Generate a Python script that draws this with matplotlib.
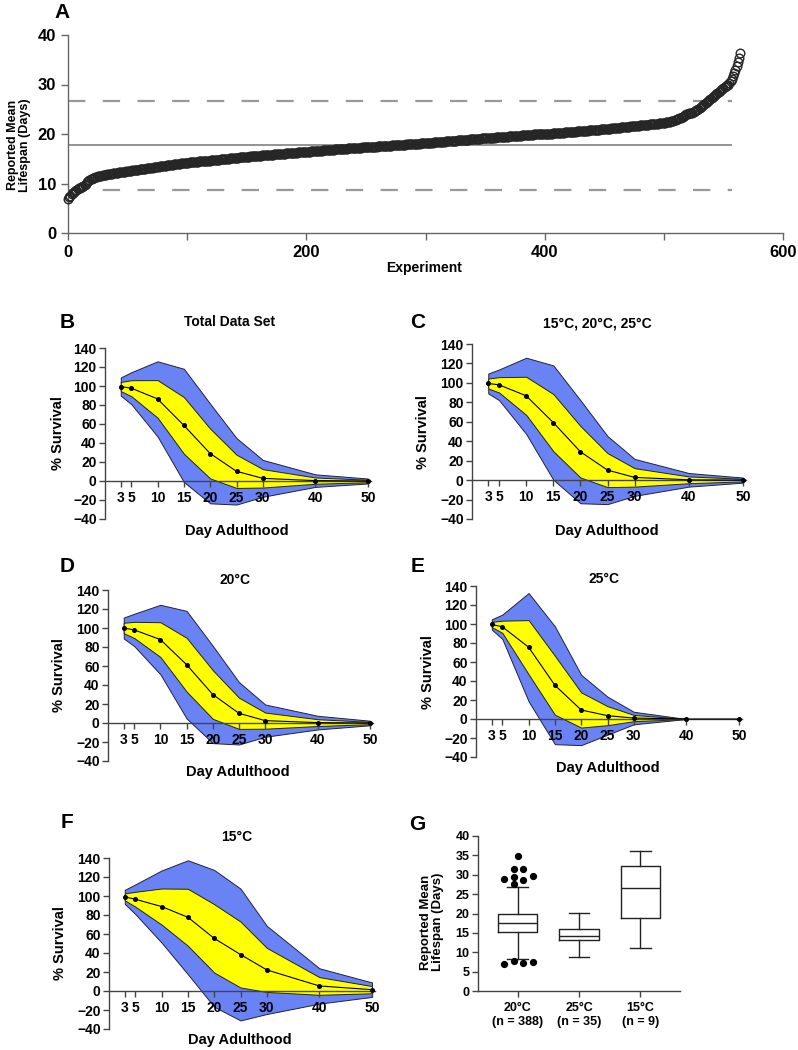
import matplotlib
matplotlib.use('Agg')
import matplotlib.pyplot as plt
import numpy as np

# ---------------- data ----------------
# Panel A: sorted reported mean lifespans (days), one value per experiment
lifespans = [
    6.9, 7.2, 7.5, 7.8, 8.0, 8.2, 8.4, 8.6, 8.8, 9.0, 9.1, 9.2, 9.3, 9.4, 9.6, 9.9, 10.3, 10.6, 10.8, 10.9, 11.0, 11.1, 11.2, 11.3, 11.4,
    11.5, 11.5, 11.6, 11.6, 11.7, 11.7, 11.8, 11.8, 11.9, 11.9, 12.0, 12.0, 12.0, 12.1, 12.1, 12.2, 12.2, 12.2, 12.3, 12.3, 12.3, 12.4, 12.4, 12.4, 12.5,
    12.5, 12.6, 12.6, 12.6, 12.7, 12.7, 12.7, 12.8, 12.8, 12.8, 12.9, 12.9, 12.9, 13.0, 13.0, 13.0, 13.1, 13.1, 13.1, 13.2, 13.2, 13.2, 13.3, 13.3, 13.3,
    13.4, 13.4, 13.5, 13.5, 13.5, 13.6, 13.6, 13.6, 13.7, 13.7, 13.7, 13.8, 13.8, 13.8, 13.9, 13.9, 13.9, 14.0, 14.0, 14.0, 14.1, 14.1, 14.1, 14.2, 14.2,
    14.2, 14.2, 14.3, 14.3, 14.3, 14.3, 14.4, 14.4, 14.4, 14.4, 14.5, 14.5, 14.5, 14.5, 14.5, 14.6, 14.6, 14.6, 14.6, 14.6, 14.7, 14.7, 14.7, 14.7, 14.7,
    14.8, 14.8, 14.8, 14.9, 14.9, 14.9, 14.9, 15.0, 15.0, 15.0, 15.0, 15.1, 15.1, 15.1, 15.1, 15.2, 15.2, 15.2, 15.2, 15.3, 15.3, 15.3, 15.3, 15.4, 15.4,
    15.4, 15.4, 15.4, 15.5, 15.5, 15.5, 15.5, 15.5, 15.6, 15.6, 15.6, 15.6, 15.6, 15.7, 15.7, 15.7, 15.7, 15.7, 15.8, 15.8, 15.8, 15.8, 15.8, 15.9, 15.9,
    15.9, 15.9, 15.9, 16.0, 16.0, 16.0, 16.0, 16.0, 16.1, 16.1, 16.1, 16.1, 16.1, 16.2, 16.2, 16.2, 16.2, 16.2, 16.3, 16.3, 16.3, 16.3, 16.3, 16.3, 16.4,
    16.4, 16.4, 16.4, 16.4, 16.5, 16.5, 16.5, 16.5, 16.5, 16.6, 16.6, 16.6, 16.6, 16.6, 16.7, 16.7, 16.7, 16.7, 16.7, 16.8, 16.8, 16.8, 16.8, 16.8, 16.9,
    16.9, 16.9, 16.9, 16.9, 17.0, 17.0, 17.0, 17.0, 17.0, 17.0, 17.1, 17.1, 17.1, 17.1, 17.1, 17.1, 17.2, 17.2, 17.2, 17.2, 17.2, 17.2, 17.3, 17.3, 17.3,
    17.3, 17.3, 17.3, 17.3, 17.4, 17.4, 17.4, 17.4, 17.4, 17.4, 17.5, 17.5, 17.5, 17.5, 17.5, 17.5, 17.6, 17.6, 17.6, 17.6, 17.6, 17.6, 17.7, 17.7, 17.7,
    17.7, 17.7, 17.7, 17.8, 17.8, 17.8, 17.8, 17.8, 17.8, 17.9, 17.9, 17.9, 17.9, 17.9, 17.9, 18.0, 18.0, 18.0, 18.0, 18.0, 18.0, 18.1, 18.1, 18.1, 18.1,
    18.1, 18.1, 18.2, 18.2, 18.2, 18.2, 18.2, 18.3, 18.3, 18.3, 18.3, 18.3, 18.4, 18.4, 18.4, 18.4, 18.4, 18.5, 18.5, 18.5, 18.5, 18.5, 18.6, 18.6, 18.6,
    18.6, 18.6, 18.7, 18.7, 18.7, 18.7, 18.7, 18.8, 18.8, 18.8, 18.8, 18.8, 18.9, 18.9, 18.9, 18.9, 18.9, 19.0, 19.0, 19.0, 19.0, 19.0, 19.1, 19.1, 19.1,
    19.1, 19.1, 19.1, 19.2, 19.2, 19.2, 19.2, 19.2, 19.2, 19.3, 19.3, 19.3, 19.3, 19.3, 19.3, 19.4, 19.4, 19.4, 19.4, 19.4, 19.5, 19.5, 19.5, 19.5, 19.5,
    19.5, 19.6, 19.6, 19.6, 19.6, 19.6, 19.7, 19.7, 19.7, 19.7, 19.7, 19.8, 19.8, 19.8, 19.8, 19.8, 19.9, 19.9, 19.9, 19.9, 19.9, 20.0, 20.0, 20.0, 20.0,
    20.0, 20.0, 20.1, 20.1, 20.1, 20.1, 20.1, 20.2, 20.2, 20.2, 20.2, 20.2, 20.3, 20.3, 20.3, 20.3, 20.3, 20.4, 20.4, 20.4, 20.4, 20.4, 20.5, 20.5, 20.5,
    20.5, 20.5, 20.6, 20.6, 20.6, 20.6, 20.6, 20.7, 20.7, 20.7, 20.7, 20.7, 20.8, 20.8, 20.8, 20.8, 20.8, 20.9, 20.9, 20.9, 20.9, 20.9, 21.0, 21.0, 21.0,
    21.0, 21.0, 21.1, 21.1, 21.1, 21.1, 21.2, 21.2, 21.2, 21.2, 21.3, 21.3, 21.3, 21.3, 21.4, 21.4, 21.4, 21.4, 21.5, 21.5, 21.5, 21.5, 21.6, 21.6, 21.6,
    21.6, 21.7, 21.7, 21.7, 21.7, 21.8, 21.8, 21.8, 21.8, 21.9, 21.9, 21.9, 21.9, 22.0, 22.0, 22.0, 22.0, 22.1, 22.1, 22.1, 22.1, 22.2, 22.2, 22.2, 22.2,
    22.3, 22.3, 22.4, 22.4, 22.5, 22.5, 22.6, 22.6, 22.7, 22.8, 22.9, 23.0, 23.1, 23.2, 23.3, 23.4, 23.5, 23.6, 23.8, 24.0, 24.1, 24.2, 24.2, 24.3, 24.3,
    24.4, 24.6, 24.8, 24.9, 25.0, 25.2, 25.4, 25.6, 25.8, 26.0, 26.2, 26.4, 26.6, 26.8, 27.0, 27.2, 27.4, 27.6, 27.8, 28.0, 28.2, 28.4, 28.6, 28.8, 29.0,
    29.2, 29.4, 29.6, 29.8, 30.0, 30.3, 30.7, 31.2, 31.7, 32.3, 33.0, 33.8, 34.5, 35.3, 36.3,
]
lifespan_mean = 17.7
lifespan_upper = 26.7
lifespan_lower = 8.6
ref_line_end = 557

# Panels B-F: survival (%) mean and SD per day of adulthood
days = [3, 5, 10, 15, 20, 25, 30, 40, 50]
day_ticks = [3, 5, 10, 15, 20, 25, 30, 40, 50]

total_mean = [99.4, 97.7, 86.4, 58.5, 28.9, 10.2, 2.8, 0.4, 0.0]
total_sd = [4.8, 8.4, 19.8, 29.8, 26.2, 17.5, 9.7, 3.3, 1.3]

three_temp_mean = [99.4, 98.0, 86.7, 59.2, 29.2, 10.3, 2.8, 0.3, 0.0]
three_temp_sd = [5.1, 7.9, 19.6, 29.4, 26.5, 17.5, 9.5, 3.5, 1.3]

t20_mean = [100.0, 98.0, 87.8, 61.4, 30.0, 10.2, 2.5, 0.4, 0.0]
t20_sd = [5.5, 8.5, 18.3, 28.3, 25.6, 16.4, 8.5, 3.6, 1.2]

t25_mean = [99.5, 97.1, 75.6, 35.5, 9.5, 3.5, 1.0, 0.0, 0.0]
t25_sd = [2.7, 6.4, 28.5, 31.0, 18.5, 10.0, 3.3, 0.0, 0.0]

t15_mean = [99.1, 96.6, 88.9, 77.6, 55.4, 38.4, 22.2, 5.3, 1.4]
t15_sd = [3.7, 7.8, 19.0, 30.0, 36.0, 34.7, 23.2, 9.3, 3.8]

# Panel G: box plot summary
g_labels = ['20°C\n(n = 388)', '25°C\n(n = 35)', '15°C\n(n = 9)']
g_whislo = [8.3, 8.7, 11.0]
g_q1 = [15.3, 13.1, 18.9]
g_med = [17.6, 14.3, 26.7]
g_q3 = [19.8, 15.9, 32.2]
g_whishi = [26.8, 20.2, 36.1]
g_outliers_20 = [7.0, 7.7, 7.3, 7.5, 28.9, 29.4, 27.5, 28.6, 29.8, 31.5, 31.6, 34.8]

# ---------------- style ----------------
plt.rcParams['font.family'] = ['Liberation Sans', 'DejaVu Sans']
plt.rcParams['font.weight'] = 'bold'
plt.rcParams['lines.scale_dashes'] = False

BLUE = '#6982F4'
YELLOW = '#FFFF00'
AXC = '#444444'

W, H = 798, 1050
fig = plt.figure(figsize=(W / 100, H / 100), dpi=100)


def fx(x):
    return x / W


def fy(y):
    return 1 - y / H


def rect(l, t, r, b):
    return [l / W, 1 - b / H, (r - l) / W, (b - t) / H]


# ---------------- Panel A ----------------
axA = fig.add_axes(rect(68, 35, 783, 233))
xs = np.arange(len(lifespans))
axA.plot(xs, lifespans, 'o', ms=6.2, mfc='none', mec='#262626', mew=1.0,
         clip_on=False, zorder=3)
axA.hlines(lifespan_mean, 0, ref_line_end, color='#777777', lw=1.1, zorder=2)
axA.hlines([lifespan_upper, lifespan_lower], 0, ref_line_end, color='#999999',
           lw=1.6, linestyles=[(0, (12.5, 12.5))], zorder=2)
axA.set_xlim(0, 600)
axA.set_ylim(0, 40)
for s in ['top', 'right']:
    axA.spines[s].set_visible(False)
for s in ['left', 'bottom']:
    axA.spines[s].set_color('#666666')
    axA.spines[s].set_linewidth(1.0)
axA.set_xticks([0, 200, 400, 600])
axA.set_xticks([100, 300, 500], minor=True)
axA.set_yticks([0, 10, 20, 30, 40])
axA.tick_params(axis='both', which='both', direction='out', color='#666666',
                length=5, width=1.0, labelsize=12)
for lab in axA.get_xticklabels() + axA.get_yticklabels():
    lab.set_fontweight('bold')
fig.text(fx(424), fy(268), 'Experiment', ha='center', va='center',
         fontsize=10, fontweight='bold')
fig.text(fx(19), fy(145), 'Reported Mean\nLifespan (Days)', ha='center',
         va='center', rotation=90, fontsize=9, fontweight='bold',
         linespacing=1.0)
fig.text(fx(62), fy(13), 'A', ha='center', va='center', fontsize=15,
         fontweight='bold')


# ---------------- Panels B-F ----------------
def survival_panel(l, t, r50, b, mean, sd, title, title_xy, letter, letter_xy,
                   xlabel_xy, ylabel_xy):
    per_day = (r50 - l) / 50.0
    r = l + per_day * 50.6
    ax = fig.add_axes(rect(l, t, r, b))
    d = np.array(days, dtype=float)
    m = np.array(mean, dtype=float)
    s = np.array(sd, dtype=float)
    ax.fill_between(d, m - 2 * s, m + 2 * s, facecolor=BLUE,
                    edgecolor='#222233', linewidth=0.7, zorder=1)
    ax.fill_between(d, m - s, m + s, facecolor=YELLOW,
                    edgecolor='#222222', linewidth=0.7, zorder=1.2)
    ax.plot(d, m, '-o', color='black', lw=0.8, ms=2.6, zorder=3,
            clip_on=False)
    ax.set_xlim(0, 50.6)
    ax.set_ylim(-40, 140)
    ax.spines['top'].set_visible(False)
    ax.spines['right'].set_visible(False)
    ax.spines['bottom'].set_position(('data', 0))
    for sp in ['left', 'bottom']:
        ax.spines[sp].set_color(AXC)
        ax.spines[sp].set_linewidth(1.0)
    ax.spines['bottom'].set_zorder(2.5)
    ax.set_xticks(day_ticks)
    ax.set_yticks(np.arange(-40, 141, 20))
    ax.tick_params(axis='both', direction='out', color=AXC, length=4,
                   width=1.0, labelsize=10, pad=2)
    ax.tick_params(axis='x', pad=3)
    for lab in ax.get_xticklabels() + ax.get_yticklabels():
        lab.set_fontweight('bold')
    fig.text(fx(title_xy[0]), fy(title_xy[1]), title, ha='center',
             va='center', fontsize=10, fontweight='bold')
    fig.text(fx(letter_xy[0]), fy(letter_xy[1]), letter, ha='center',
             va='center', fontsize=15, fontweight='bold')
    fig.text(fx(xlabel_xy[0]), fy(xlabel_xy[1]), 'Day Adulthood',
             ha='center', va='center', fontsize=10.5, fontweight='bold')
    fig.text(fx(ylabel_xy[0]), fy(ylabel_xy[1]), '% Survival', ha='center',
             va='center', rotation=90, fontsize=10.5, fontweight='bold')
    return ax


survival_panel(105, 348, 368, 519, total_mean, total_sd, 'Total Data Set',
               (230, 322), 'B', (67, 322), (237, 531), (58, 433))
survival_panel(472, 344, 743, 519, three_temp_mean, three_temp_sd,
               '15°C, 20°C, 25°C', (597, 323), 'C', (418, 322), (607, 531),
               (423, 432))
survival_panel(108, 590, 370, 761, t20_mean, t20_sd, '20°C', (235, 580), 'D',
               (67, 567), (238, 772), (59, 675))
survival_panel(476, 586, 739, 757, t25_mean, t25_sd, '25°C', (604, 579), 'E',
               (418, 567), (608, 768), (428, 672))
survival_panel(109, 858, 372, 1029, t15_mean, t15_sd, '15°C', (237, 837), 'F',
               (67, 823), (240, 1040), (60, 943))

# ---------------- Panel G ----------------
axG = fig.add_axes(rect(478, 836, 680, 991))
stats = []
for i in range(3):
    stats.append(dict(med=g_med[i], q1=g_q1[i], q3=g_q3[i],
                      whislo=g_whislo[i], whishi=g_whishi[i], fliers=[]))
lineprops = dict(color='#222222', linewidth=1.0)
axG.bxp(stats, positions=[0, 1, 2], widths=0.64, capwidths=0.34,
        showfliers=False, patch_artist=False, boxprops=lineprops,
        whiskerprops=lineprops, capprops=lineprops, medianprops=lineprops)
flier_offsets = [-0.22, -0.07, 0.09, 0.25, -0.22, -0.07, -0.07, 0.09, 0.25,
                 -0.07, 0.09, 0.01]
axG.plot(np.array(flier_offsets), g_outliers_20, 'o', color='black', ms=4.2,
         zorder=3)
axG.set_xlim(-0.65, 2.65)
axG.set_ylim(0, 40)
axG.spines['top'].set_visible(False)
axG.spines['right'].set_visible(False)
for sp in ['left', 'bottom']:
    axG.spines[sp].set_color(AXC)
    axG.spines[sp].set_linewidth(1.0)
axG.set_yticks(np.arange(0, 41, 5))
axG.set_xticks([0, 1, 2])
axG.set_xticklabels(g_labels)
axG.tick_params(axis='both', direction='out', color=AXC, length=4, width=1.0,
                labelsize=9, pad=2)
axG.tick_params(axis='x', pad=4)
for lab in axG.get_xticklabels() + axG.get_yticklabels():
    lab.set_fontweight('bold')
fig.text(fx(432), fy(922), 'Reported Mean\nLifespan (Days)', ha='center',
         va='center', rotation=90, fontsize=9.5, fontweight='bold',
         linespacing=1.0)
fig.text(fx(417), fy(825), 'G', ha='center', va='center', fontsize=15,
         fontweight='bold')

fig.savefig('out.png', dpi=100)
